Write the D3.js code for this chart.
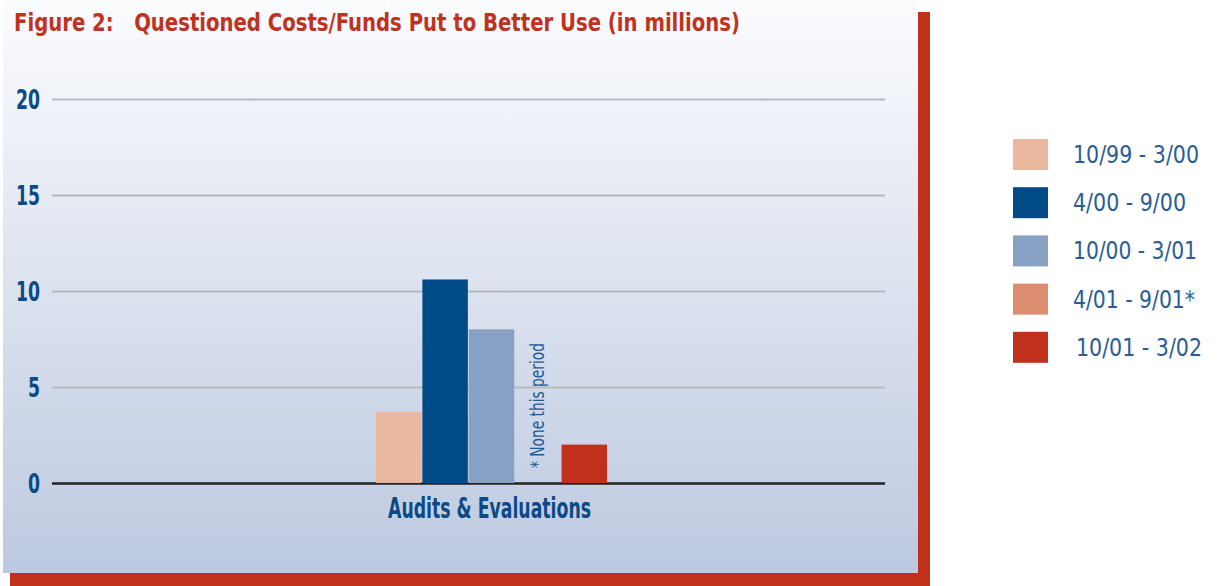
<!DOCTYPE html>
<html>
<head>
<meta charset="utf-8">
<script src="https://cdn.jsdelivr.net/npm/d3@7"></script>
<style>
  html, body { margin: 0; padding: 0; background: #ffffff; }
  svg { display: block; }
  .narrow { font-family: 'Liberation Sans Narrow', 'Arial Narrow', 'DejaVu Sans Condensed', 'Liberation Sans', sans-serif; font-stretch: condensed; }
</style>
</head>
<body>
<svg id="chart" width="1217" height="586"></svg>
<script>
// Questioned costs / funds put to better use, in millions of dollars
const categories = ["Audits & Evaluations"];
const periods = ["10/99 - 3/00", "4/00 - 9/00", "10/00 - 3/01", "4/01 - 9/01*", "10/01 - 3/02"];
const values = [3.7, 10.6, 8.0, null, 2.0];   // 4/01 - 9/01: none this period
const colors = ["#e9b89e", "#004a87", "#87a0c4", "#dc8d6f", "#c0301c"];
const yTicks = [0, 5, 10, 15, 20];
const titleText = "Figure 2:   Questioned Costs/Funds Put to Better Use (in millions)";
const noteText = "* None this period";

const svg = d3.select("#chart");

// panel with drop shadow and vertical gradient
const defs = svg.append("defs");
const grad = defs.append("linearGradient")
  .attr("id", "panelFill").attr("x1", 0).attr("y1", 0).attr("x2", 0).attr("y2", 1);
grad.append("stop").attr("offset", "0%").attr("stop-color", "#fbfcfe");
grad.append("stop").attr("offset", "100%").attr("stop-color", "#bdc9e0");

svg.append("rect").attr("x", 10).attr("y", 12).attr("width", 920).attr("height", 574)
  .attr("fill", "#c0311c");
svg.append("rect").attr("x", 3).attr("y", 0).attr("width", 915).attr("height", 573)
  .attr("fill", "url(#panelFill)");

// title
svg.append("text").attr("class", "narrow")
  .attr("x", 14).attr("y", 31)
  .attr("fill", "#c0321e").attr("font-weight", "bold").attr("font-size", 25)
  .attr("textLength", 726).attr("lengthAdjust", "spacingAndGlyphs")
  .style("white-space", "pre")
  .text(titleText);

// scales
const plotLeft = 52, plotRight = 885;
const y = d3.scaleLinear().domain([0, 20]).range([483, 99]);
const x0 = d3.scaleBand().domain(categories).range([98, 885]);
const groupHalf = 115.5;
const x1 = d3.scaleBand().domain(periods).paddingInner(0.02);

// grid + y axis
const yAxis = d3.axisLeft(y).tickValues(yTicks).tickSize(-(plotRight - plotLeft)).tickPadding(12);
const gy = svg.append("g").attr("transform", `translate(${plotLeft},0)`).call(yAxis);
gy.select(".domain").remove();
gy.selectAll(".tick line")
  .attr("stroke", d => d === 0 ? "#222222" : "#b9b9b9")
  .attr("stroke-width", d => d === 0 ? 2.5 : 2);
gy.selectAll(".tick text")
  .attr("class", "narrow")
  .attr("fill", "#0b4a86").attr("font-weight", "bold").attr("font-size", 27)
  .attr("dy", "0.34em")
  .attr("textLength", d => String(d).length * 12)
  .attr("lengthAdjust", "spacingAndGlyphs");

// bars
categories.forEach(cat => {
  const cx = x0(cat) + x0.bandwidth() / 2;
  x1.range([cx - groupHalf, cx + groupHalf]);
  const g = svg.append("g");
  g.selectAll("rect")
    .data(periods.map((p, i) => ({ p, v: values[i], c: colors[i] })).filter(d => d.v != null))
    .join("rect")
    .attr("x", d => x1(d.p))
    .attr("width", x1.bandwidth())
    .attr("y", d => y(d.v))
    .attr("height", d => y(0) - y(d.v))
    .attr("fill", d => d.c);

  // note in the empty slot
  const nx = x1(periods[3]) + x1.bandwidth() / 2 + 6;
  svg.append("text").attr("class", "narrow")
    .attr("transform", `translate(${nx},${468}) rotate(-90)`)
    .attr("fill", "#1f5a96").attr("font-size", 19)
    .attr("textLength", 125).attr("lengthAdjust", "spacingAndGlyphs")
    .text(noteText);

  // category label
  svg.append("text").attr("class", "narrow")
    .attr("x", cx - 2).attr("y", 518)
    .attr("text-anchor", "middle")
    .attr("fill", "#0b4a86").attr("font-weight", "bold").attr("font-size", 28)
    .attr("textLength", 203).attr("lengthAdjust", "spacingAndGlyphs")
    .text(cat);
});

// legend
const legendWidths = [126, 113, 124, 122, 126];
const legend = svg.append("g").attr("transform", "translate(1013,139)");
const rows = legend.selectAll("g").data(periods).join("g")
  .attr("transform", (d, i) => `translate(0,${i * 48.2})`);
rows.append("rect").attr("width", 35).attr("height", 31).attr("fill", (d, i) => colors[i]);
rows.append("text").attr("class", "narrow")
  .attr("x", (d, i) => i === 4 ? 63 : 60).attr("y", 24)
  .attr("fill", "#2a5d95").attr("font-size", 25)
  .attr("textLength", (d, i) => legendWidths[i]).attr("lengthAdjust", "spacingAndGlyphs")
  .text(d => d);
</script>
</body>
</html>
